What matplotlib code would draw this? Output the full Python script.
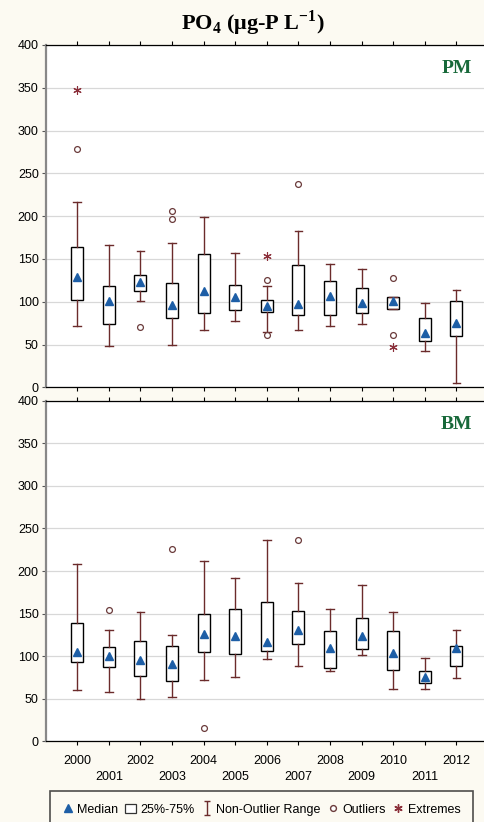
import matplotlib
matplotlib.use("Agg")
import matplotlib.pyplot as plt
from matplotlib.lines import Line2D
from matplotlib.patches import Patch
from matplotlib.path import Path
import numpy as np

plt.rcParams['font.family'] = ['Liberation Sans', 'DejaVu Sans']
plt.rcParams['mathtext.fontset'] = 'custom'
plt.rcParams['mathtext.rm'] = 'Liberation Serif:bold'
plt.rcParams['mathtext.bf'] = 'Liberation Serif:bold'

years = list(range(2000, 2013))

# PM station
pm_whislo = [72, 48, 101, 50, 67, 78, 65, 67, 72, 74, 91, 43, 5]
pm_q1 = [102, 74, 113, 81, 87, 90, 88, 84, 84, 87, 92, 54, 60]
pm_med = [129, 101, 123, 96, 113, 106, 95, 97, 107, 99, 101, 64, 75]
pm_q3 = [164, 118, 131, 122, 156, 120, 102, 143, 124, 116, 105, 81, 101]
pm_whishi = [217, 166, 159, 169, 199, 157, 118, 183, 144, 138, 105, 99, 114]
pm_outliers = {2000: [278], 2002: [71], 2003: [206, 197], 2006: [125, 61],
               2007: [237], 2010: [128, 61]}
pm_extremes = {2000: [347], 2006: [153], 2010: [47]}

# BM station
bm_whislo = [60, 58, 49, 52, 72, 75, 97, 88, 82, 101, 61, 61, 74]
bm_q1 = [93, 87, 76, 71, 105, 102, 106, 114, 86, 108, 83, 68, 88]
bm_med = [105, 100, 95, 91, 126, 124, 116, 131, 109, 124, 104, 75, 109]
bm_q3 = [139, 111, 118, 112, 149, 155, 164, 153, 130, 145, 129, 82, 112]
bm_whishi = [208, 131, 152, 125, 212, 192, 237, 186, 155, 183, 152, 98, 131]
bm_outliers = {2001: [154], 2003: [226], 2004: [15], 2007: [237]}
bm_extremes = {}

box_col = 'black'
whisk_col = '#6b2b2b'
med_col = '#1d5ea6'
out_col = '#6b3b3b'
ext_col = '#8b2f3a'
bg = '#fcfaf2'

# I-shaped marker for the whisker legend entry
whisk_marker = Path([(-0.5, 1), (0.5, 1), (0, 1), (0, -1), (-0.5, -1), (0.5, -1)],
                    [Path.MOVETO, Path.LINETO, Path.MOVETO, Path.LINETO,
                     Path.MOVETO, Path.LINETO])


def panel(ax, whislo, q1, med, q3, whishi, outliers, extremes, label):
    stats = []
    for i in range(len(years)):
        stats.append(dict(whislo=whislo[i], q1=q1[i], med=med[i], q3=q3[i],
                          whishi=whishi[i], fliers=[]))
    ax.bxp(stats, positions=years, widths=0.38, showfliers=False,
           patch_artist=True, manage_ticks=False,
           boxprops=dict(facecolor='white', edgecolor=box_col, linewidth=1.0),
           whiskerprops=dict(color=whisk_col, linewidth=1.0),
           capprops=dict(color=whisk_col, linewidth=1.0),
           capwidths=0.25,
           medianprops=dict(visible=False))
    ax.plot(years, med, linestyle='none', marker='^', color=med_col,
            markersize=5.5, zorder=5)
    for yr, vals in outliers.items():
        ax.plot([yr] * len(vals), vals, linestyle='none', marker='o',
                markerfacecolor='white', markeredgecolor=out_col,
                markersize=4.2, markeredgewidth=0.9, zorder=5)
    for yr, vals in extremes.items():
        ax.plot([yr] * len(vals), vals, linestyle='none', marker=(6, 2, 0),
                color=ext_col, markersize=6, markeredgewidth=0.8, zorder=5)
    ax.set_xlim(1999, 2013)
    ax.set_ylim(0, 400)
    ax.set_yticks(np.arange(0, 401, 50))
    ax.set_xticks(years)
    ax.grid(axis='y', color='#d8d8d8', linewidth=0.9)
    ax.set_axisbelow(True)
    ax.tick_params(axis='y', labelsize=9, length=3, color='#555555', pad=2)
    ax.tick_params(axis='x', length=3, direction='out', top=True)
    ax.spines['left'].set_color('#888888')
    ax.spines['left'].set_linewidth(1.6)
    for s in ['top', 'bottom', 'right']:
        ax.spines[s].set_linewidth(0.9)
    ax.text(2012.5, 372, label, ha='right', va='center', fontsize=14,
            fontweight='bold', family='Liberation Serif', color='#18693a')


fig = plt.figure(figsize=(4.84, 8.22), dpi=100, facecolor=bg)
ax1 = fig.add_axes([0.0944, 0.5288, 0.914, 0.4165])
ax2 = fig.add_axes([0.0944, 0.0985, 0.914, 0.4137])

panel(ax1, pm_whislo, pm_q1, pm_med, pm_q3, pm_whishi, pm_outliers, pm_extremes, 'PM')
panel(ax2, bm_whislo, bm_q1, bm_med, bm_q3, bm_whishi, bm_outliers, bm_extremes, 'BM')

ax1.tick_params(axis='x', labelbottom=False)
ax2.set_xticklabels([str(y) if y % 2 == 0 else '\n' + str(y) for y in years],
                    fontsize=9, linespacing=1.45)
ax2.tick_params(axis='x', pad=7)

fig.text(0.523, 0.972, r'PO$_4$ ($\mathbf{\mu}$g-P L$^{-1}$)', ha='center', va='center',
         fontsize=16, fontweight='bold', family='Liberation Serif')

handles = [
    Line2D([], [], linestyle='none', marker='^', color=med_col, markersize=5.5),
    Patch(facecolor='white', edgecolor='#333333', linewidth=0.9),
    Line2D([], [], linestyle='none', marker=whisk_marker, color=whisk_col,
           markersize=10, markeredgewidth=1.0),
    Line2D([], [], linestyle='none', marker='o', markerfacecolor='white',
           markeredgecolor=out_col, markersize=4.2),
    Line2D([], [], linestyle='none', marker=(6, 2, 0), color=ext_col, markersize=6),
]
labels = ['Median', '25%-75%', 'Non-Outlier Range', 'Outliers', 'Extremes']
leg = fig.legend(handles, labels, loc='upper center', bbox_to_anchor=(0.54, 1 - 785 / 822),
                 ncol=5, fontsize=9, frameon=True, fancybox=False, edgecolor='#222222',
                 handlelength=0.9, handletextpad=0.3, columnspacing=0.55, borderpad=1.0,
                 facecolor=bg)
leg.get_frame().set_linewidth(1.2)

fig.savefig('out.png', dpi=100, facecolor=bg)
